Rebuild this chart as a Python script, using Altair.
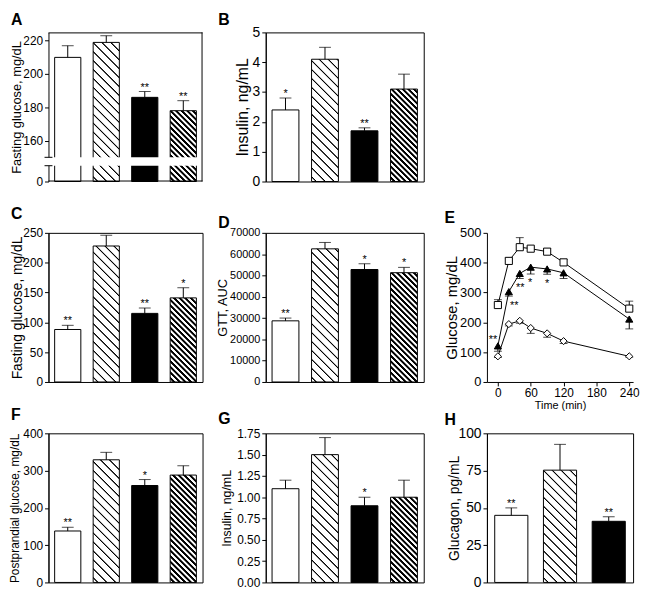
import math
import pandas as pd
import altair as alt

FONT = "Liberation Sans"

# ---------------- data ----------------
bar_groups = ["g1", "g2", "g3", "g4"]
bar_styles = ["white", "hatch", "black", "dense"]

a_mean = [210, 219, 186, 178]
a_err = [7, 4, 3.5, 6]
a_star = ["", "", "**", "**"]

b_mean = [2.4, 4.1, 1.7, 3.1]
b_err = [0.4, 0.4, 0.1, 0.5]
b_star = ["*", "", "**", ""]

c_mean = [88, 228, 115, 141]
c_err = [7, 18, 9, 17]
c_star = ["**", "", "**", "*"]

d_mean = [28700, 62500, 52800, 51300]
d_err = [1300, 3000, 2700, 2500]
d_star = ["**", "", "*", "*"]

f_mean = [138, 329, 260, 288]
f_err = [10, 20, 16, 25]
f_star = ["**", "", "*", ""]

g_mean = [1.10, 1.50, 0.90, 1.00]
g_err = [0.10, 0.20, 0.10, 0.20]
g_star = ["", "", "*", ""]

h_mean = [45, 75.3, 41]
h_err = [5, 17.3, 3]
h_star = ["**", "", "**"]

e_time = [0, 20, 40, 60, 90, 120, 240]
e_sq = [258, 406, 452, 447, 437, 401, 246]
e_sq_err = [18, 10, 32, 5, 11, 10, 25]
e_tri = [121, 303, 364, 385, 379, 366, 211]
e_tri_err = [18, 15, 17, 23, 18, 19, 33]
e_dia = [86, 194, 205, 181, 163, 137, 86]
e_dia_err = [4, 6, 8, 18, 13, 8, 3]
e_star_x = [-9, 30, 41, 59, 90]
e_star_y = [151, 265, 325, 341, 337]
e_star_t = ["**", "**", "**", "*", "*"]

# ---------------- layout (style) ----------------
W1, W2, W3 = 156, 160, 148
H = 151
PAD_IN, PAD_OUT = 0.32, 0.16


def hatch_fill(w, h, period, lw, soft=0.6):
    # linear gradient in objectBoundingBox units whose isolines run at 45 degrees on screen
    s = (w + h) / (w * w + h * h)
    L = (w + h) / math.sqrt(2)
    core = max(lw - soft, 0.1)
    stops = [alt.GradientStop(offset=0, color="white")]
    d = period * 0.4
    while d + 2 * soft + core < L:
        p = [d, d + soft, d + soft + core, d + 2 * soft + core]
        cols = ["white", "black", "black", "white"]
        for q, c in zip(p, cols):
            stops.append(alt.GradientStop(offset=round(q / L, 5), color=c))
        d += period
    stops.append(alt.GradientStop(offset=1, color="white"))
    return alt.LinearGradient(gradient="linear", stops=stops,
                              x1=0, y1=1, x2=round(w * s, 6), y2=round(1 - h * s, 6))


def px_height(v, dom, rng):
    for i in range(len(dom) - 1):
        if dom[i] <= v <= dom[i + 1]:
            y = rng[i] + (v - dom[i]) / (dom[i + 1] - dom[i]) * (rng[i + 1] - rng[i])
            return rng[0] - y
    return rng[0] - rng[-1]


def letter_layer(letter, lx, ly):
    return alt.Chart(pd.DataFrame({"t": [letter]})).mark_text(
        font=FONT, fontSize=16, fontWeight="bold", align="left", baseline="top", color="black"
    ).encode(text="t:N", x=alt.value(lx), y=alt.value(ly))


def y_axis(title, tfs, lfs, tx, values, fmt="d"):
    return alt.Axis(title=title, values=values, tickCount=len(values) + 2, format=fmt,
                    titleFontSize=tfs, labelFontSize=lfs,
                    titleFont=FONT, labelFont=FONT, titleFontWeight="normal",
                    titleColor="black", labelColor="black", tickColor="black", domainColor="black",
                    tickSize=4, labelPadding=2, grid=False, labelOverlap=False,
                    titleX=tx, titleY=H / 2, titleAngle=270, titleBaseline="middle",
                    titleAlign="center", zindex=0)


def bar_panel(letter, means, errs, stars, W, dom, rng, title, tfs, lfs, tx, ticks,
              lpos, fmt="d", broken=False):
    n = len(means)
    groups = bar_groups[:n]
    styles = bar_styles[:n]
    df = pd.DataFrame({"g": groups, "mean": means,
                       "top": [m + e for m, e in zip(means, errs)],
                       "star": stars, "style": styles})
    xs = alt.X("g:N", axis=None,
               scale=alt.Scale(domain=groups, paddingInner=PAD_IN, paddingOuter=PAD_OUT))
    scale = alt.Scale(domain=dom, range=rng, nice=False, zero=False)
    ax = y_axis(title, tfs, lfs, tx, ticks, fmt)

    def Y(f):
        return alt.Y(f"{f}:Q", scale=scale, axis=ax)

    base = alt.Chart(df)
    layers = [
        base.transform_filter(alt.FieldOneOfPredicate(field="style", oneOf=["white", "black"]))
        .mark_bar(stroke="black", strokeWidth=1)
        .encode(x=xs, y=Y("mean"),
                fill=alt.Fill("style:N", scale=alt.Scale(domain=["white", "black"],
                                                         range=["white", "black"]), legend=None))
    ]
    bw = W / n * (1 - PAD_IN)
    for i, s in enumerate(styles):
        if s in ("hatch", "dense"):
            hp = px_height(means[i], dom, rng)
            grad = hatch_fill(bw, hp, 6.4, 1.1) if s == "hatch" else hatch_fill(bw, hp, 4.0, 2.0)
            layers.append(
                base.transform_filter(alt.datum.g == groups[i])
                .mark_bar(fill=grad, stroke="black", strokeWidth=1)
                .encode(x=xs, y=Y("mean"))
            )
    if broken:
        layers.append(alt.Chart(pd.DataFrame({"a": [0]})).mark_rect(fill="white", strokeWidth=0)
                      .encode(x=alt.value(-2), x2=alt.value(W - 1),
                              y=alt.datum(dom[1]), y2=alt.datum(dom[2])))
        for v in (dom[1], dom[2]):
            layers.append(alt.Chart(pd.DataFrame({"a": [0]})).mark_rule(color="black", strokeWidth=1)
                          .encode(x=alt.value(-4), x2=alt.value(4), y=alt.datum(v)))
        fr = alt.Chart(pd.DataFrame({"a": [0]}))
        layers += [
            fr.mark_rule(color="black").encode(x=alt.value(0), x2=alt.value(W), y=alt.value(0.5)),
            fr.mark_rule(color="black").encode(x=alt.value(W - 0.5), y=alt.value(0), y2=alt.value(H)),
            fr.mark_rule(color="black").encode(x=alt.value(0), x2=alt.value(W), y=alt.value(H - 0.5)),
        ]
    layers += [
        base.mark_rule(color="black", strokeWidth=1).encode(x=xs, y=Y("mean"), y2="top:Q"),
        base.mark_tick(color="black", thickness=1, size=12, orient="horizontal").encode(x=xs, y=Y("top")),
        base.mark_text(font=FONT, fontSize=11, baseline="alphabetic", dy=-1, color="black")
        .encode(x=xs, y=Y("top"), text="star:N"),
        letter_layer(letter, *lpos),
    ]
    view = alt.ViewBackground(stroke="black", strokeWidth=1, strokeOpacity=0 if broken else 1)
    return alt.layer(*layers).properties(width=W, height=H, view=view)


def lin(mx):
    return [0, mx], [H, 0]


A = bar_panel("A", a_mean, a_err, a_star, W1, [0, 20, 150, 225], [H, 135, 126.5, 0],
              "Fasting glucose, mg/dL", 13, 12, -32, [0, 160, 180, 200, 220], (-38, -20), broken=True)
B = bar_panel("B", b_mean, b_err, b_star, W2, *lin(5), "Insulin, ng/mL", 16, 14, -23,
              [0, 1, 2, 3, 4, 5], (-48, -20))
C = bar_panel("C", c_mean, c_err, c_star, W1, *lin(250), "Fasting glucose, mg/dL", 14, 12, -31,
              [0, 50, 100, 150, 200, 250], (-38, -27))
D = bar_panel("D", d_mean, d_err, d_star, W2, *lin(70000), "GTT, AUC", 13, 11, -44,
              list(range(0, 70001, 10000)), (-48, -18))
F = bar_panel("F", f_mean, f_err, f_star, W1, *lin(400), "Postprandial glucose, mg/dL", 12, 12, -34,
              [0, 100, 200, 300, 400], (-38, -27))
G = bar_panel("G", g_mean, g_err, g_star, W2, *lin(1.75), "Insulin, ng/mL", 12.5, 12, -40,
              [0, 0.25, 0.5, 0.75, 1.0, 1.25, 1.5, 1.75], (-48, -22), fmt=".2f")
Hp = bar_panel("H", h_mean, h_err, h_star, W3, *lin(100), "Glucagon, pg/mL", 14, 14, -33,
               [0, 25, 50, 75, 100], (-43, -21))

# ---------------- panel E ----------------
rows = []
for name, vals, errs, up in (("sq", e_sq, e_sq_err, True), ("tri", e_tri, e_tri_err, False),
                             ("dia", e_dia, e_dia_err, False)):
    for t, v, e in zip(e_time, vals, errs):
        rows.append({"s": name, "t": t, "v": v,
                     "lo": v if up else v - e, "hi": v + e if up else v,
                     "cap": v + e if up else v - e})
edf = pd.DataFrame(rows)
ex = alt.Scale(domain=[-20, 247], nice=False, zero=False)
ey = alt.Scale(domain=[0, 500], nice=False)
e_xaxis = alt.Axis(values=[0, 60, 120, 180, 240], tickCount=7, format="d", title="Time (min)",
                   titleFontSize=11, labelFontSize=12, titleFont=FONT, labelFont=FONT,
                   titleFontWeight="normal",
                   titleColor="black", labelColor="black", tickColor="black", domainColor="black",
                   tickSize=4, labelPadding=2, titlePadding=1, grid=False, labelFlush=False)
e_yaxis = y_axis("Glucose, mg/dL", 15, 13, -36, [0, 100, 200, 300, 400, 500])


def EX(f):
    return alt.X(f"{f}:Q", scale=ex, axis=e_xaxis)


def EY(f):
    return alt.Y(f"{f}:Q", scale=ey, axis=e_yaxis)


eb = alt.Chart(edf)
stars_df = pd.DataFrame({"t": e_star_x, "v": e_star_y, "txt": e_star_t})
E = alt.layer(
    eb.mark_line(color="black", strokeWidth=1).encode(x=EX("t"), y=EY("v"), detail="s:N"),
    eb.mark_rule(color="black", strokeWidth=1).encode(x=EX("t"), y=EY("lo"), y2="hi:Q"),
    eb.mark_tick(color="black", thickness=1, size=8, orient="horizontal").encode(x=EX("t"), y=EY("cap")),
    eb.mark_point(filled=True, stroke="black", strokeWidth=1, opacity=1, size=52).encode(
        x=EX("t"), y=EY("v"),
        shape=alt.Shape("s:N", scale=alt.Scale(domain=["sq", "tri", "dia"],
                                               range=["square", "triangle-up", "diamond"]), legend=None),
        fill=alt.Fill("s:N", scale=alt.Scale(domain=["sq", "tri", "dia"],
                                             range=["white", "black", "white"]), legend=None)),
    alt.Chart(stars_df).mark_text(font=FONT, fontSize=11, color="black", baseline="middle", dy=3)
    .encode(x=EX("t"), y=EY("v"), text="txt:N"),
    letter_layer("E", -43, -23),
).properties(width=W3, height=H, view=alt.ViewBackground(stroke="black", strokeOpacity=0))

blank = alt.Chart(pd.DataFrame({"a": [0]})).mark_point(opacity=0).encode(
    x=alt.value(0), y=alt.value(0)
).properties(width=W3, height=H, view=alt.ViewBackground(stroke="black", strokeOpacity=0))

chart = alt.concat(A, B, blank, C, D, E, F, G, Hp, columns=3,
                   spacing={"row": 52, "column": 64}, bounds="flush", align="each").properties(
    padding=0
).configure_view(stroke="black", strokeWidth=1).configure(background="white")

chart.save("out.html", embed_options={"renderer": "svg", "actions": False})
